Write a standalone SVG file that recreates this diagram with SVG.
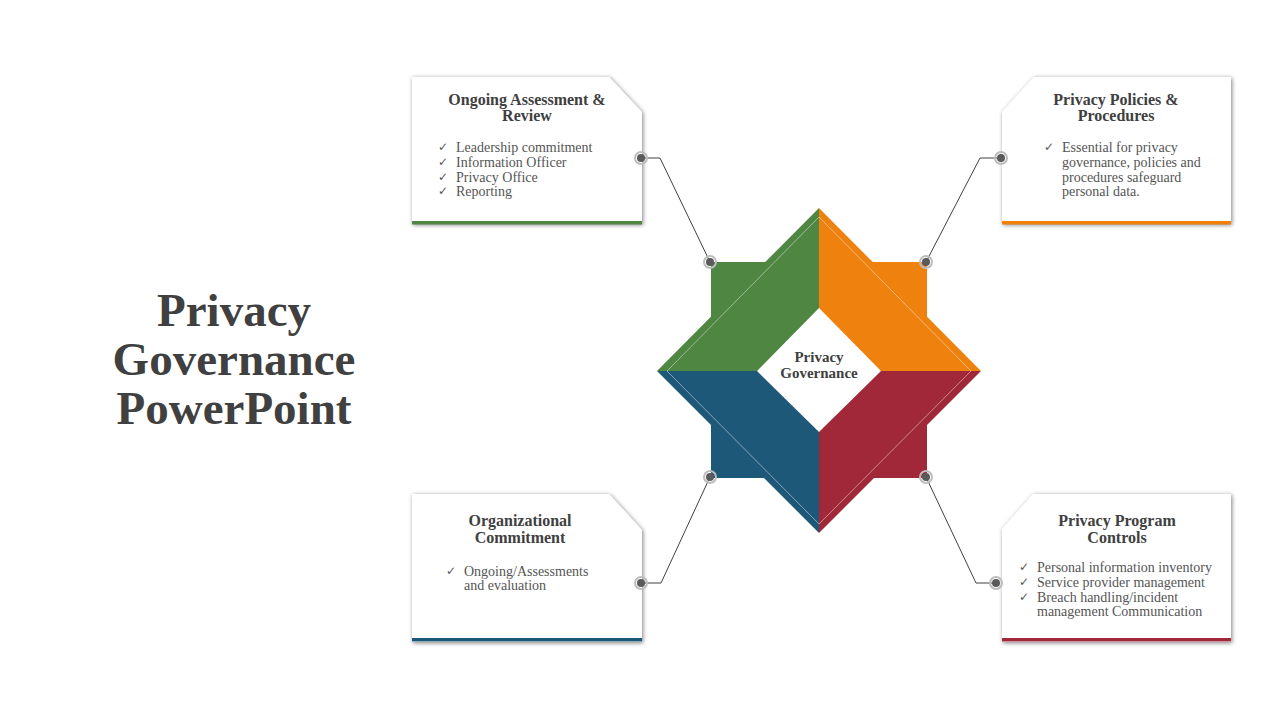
<svg xmlns="http://www.w3.org/2000/svg" width="1280" height="720" viewBox="0 0 1280 720">
<defs>
<filter id="sh" x="-10%" y="-10%" width="120%" height="120%">
<feDropShadow dx="1" dy="1" stdDeviation="2" flood-color="#000" flood-opacity="0.5"/>
</filter>
<style>
.card{fill:#fff;filter:url(#sh);}
.ttl{font-family:"Liberation Serif",serif;font-weight:bold;font-size:16px;fill:#404040;text-anchor:middle;}
.bul{font-family:"Liberation Serif",serif;font-size:14px;fill:#555;}
.chk{font-family:"DejaVu Sans",sans-serif;font-size:12px;fill:#555;}
.big{font-family:"Liberation Serif",serif;font-weight:bold;font-size:47px;fill:#404040;text-anchor:middle;}
.ctr{font-family:"Liberation Serif",serif;font-weight:bold;font-size:15px;fill:#404040;text-anchor:middle;}
.con{fill:none;stroke:#404040;stroke-width:1;}
.ring{fill:none;stroke:#bdbdbd;stroke-width:2;}
.dot{fill:#5a5a5a;}
</style>
</defs>
<rect width="1280" height="720" fill="#fff"/>

<g id="title">
<text class="big" x="234" y="326">Privacy</text>
<text class="big" x="234" y="375">Governance</text>
<text class="big" x="234" y="424">PowerPoint</text>
</g>

<g id="center">
<rect x="711" y="262" width="108" height="108" fill="#4F8642"/>
<rect x="819" y="262" width="108" height="108" fill="#EF810E"/>
<rect x="711" y="370" width="108" height="108" fill="#1E5879"/>
<rect x="819" y="370" width="108" height="108" fill="#A02838"/>
<polygon points="819,208 657,371 757,371 819,308" fill="#4F8642"/>
<polygon points="819,208 981,371 881,371 819,308" fill="#EF810E"/>
<polygon points="657,371 819,533 819,432 757,371" fill="#1E5879"/>
<polygon points="981,371 819,533 819,432 881,371" fill="#A02838"/>
<polygon points="667,371 819,217 971,371 819,524" fill="none" stroke="#fff" stroke-opacity="0.45" stroke-width="1"/>
<polygon points="819,308 881,371 819,432 757,371" fill="#fff"/>
<text class="ctr" x="819" y="362">Privacy</text>
<text class="ctr" x="819" y="378">Governance</text>
</g>

<g id="connectors">
<polyline class="con" points="641,158 660,158 710,262"/>
<polyline class="con" points="1001,158 980,158 926,262"/>
<polyline class="con" points="641,583 661,583 710,477"/>
<polyline class="con" points="996,583 976,583 926,477"/>
<circle class="ring" cx="710" cy="262" r="6"/><circle class="dot" cx="710" cy="262" r="4"/>
<circle class="ring" cx="926" cy="262" r="6"/><circle class="dot" cx="926" cy="262" r="4"/>
<circle class="ring" cx="710" cy="477" r="6"/><circle class="dot" cx="710" cy="477" r="4"/>
<circle class="ring" cx="926" cy="477" r="6"/><circle class="dot" cx="926" cy="477" r="4"/>
</g>

<g id="card-assessment">
<polygon class="card" points="412,77 609,77 642,112 642,224 412,224"/>
<rect x="412" y="221" width="230" height="3.5" fill="#4F8642"/>
<circle class="ring" cx="641" cy="158" r="6"/><circle class="dot" cx="641" cy="158" r="4"/>
<text class="ttl" x="527" y="105">Ongoing Assessment &amp;</text>
<text class="ttl" x="527" y="121">Review</text>
<text class="chk" x="438" y="151">✓</text><text class="bul" x="456" y="152">Leadership commitment</text>
<text class="chk" x="438" y="166">✓</text><text class="bul" x="456" y="167">Information Officer</text>
<text class="chk" x="438" y="180.5">✓</text><text class="bul" x="456" y="181.5">Privacy  Office</text>
<text class="chk" x="438" y="195">✓</text><text class="bul" x="456" y="196">Reporting</text>
</g>

<g id="card-policies">
<polygon class="card" points="1034,77 1231,77 1231,224 1002,224 1002,112"/>
<rect x="1002" y="221" width="229" height="3.5" fill="#EF810E"/>
<circle class="ring" cx="1001" cy="158" r="6"/><circle class="dot" cx="1001" cy="158" r="4"/>
<text class="ttl" x="1116" y="105">Privacy Policies &amp;</text>
<text class="ttl" x="1116" y="121">Procedures</text>
<text class="chk" x="1044" y="151">✓</text><text class="bul" x="1062" y="152">Essential for privacy</text>
<text class="bul" x="1062" y="167">governance, policies  and</text>
<text class="bul" x="1062" y="181.5">procedures safeguard</text>
<text class="bul" x="1062" y="196">personal data.</text>
</g>

<g id="card-commitment">
<polygon class="card" points="412,494 609,494 642,530 642,642 412,642"/>
<rect x="412" y="638" width="230" height="3.5" fill="#1E5879"/>
<circle class="ring" cx="641" cy="583" r="6"/><circle class="dot" cx="641" cy="583" r="4"/>
<text class="ttl" x="520" y="526">Organizational</text>
<text class="ttl" x="520" y="543">Commitment</text>
<text class="chk" x="446" y="574.5">✓</text><text class="bul" x="464" y="575.5">Ongoing/Assessments</text>
<text class="bul" x="464" y="590">and evaluation</text>
</g>

<g id="card-controls">
<polygon class="card" points="1033,494 1231,494 1231,642 1002,642 1002,529"/>
<rect x="1002" y="638" width="229" height="3.5" fill="#A02838"/>
<circle class="ring" cx="996" cy="583" r="6"/><circle class="dot" cx="996" cy="583" r="4"/>
<text class="ttl" x="1117" y="526">Privacy Program</text>
<text class="ttl" x="1117" y="543">Controls</text>
<text class="chk" x="1019" y="571">✓</text><text class="bul" x="1037" y="572">Personal information  inventory</text>
<text class="chk" x="1019" y="586">✓</text><text class="bul" x="1037" y="587">Service provider management</text>
<text class="chk" x="1019" y="600.5">✓</text><text class="bul" x="1037" y="601.5">Breach handling/incident</text>
<text class="bul" x="1037" y="616">management Communication</text>
</g>
</svg>
